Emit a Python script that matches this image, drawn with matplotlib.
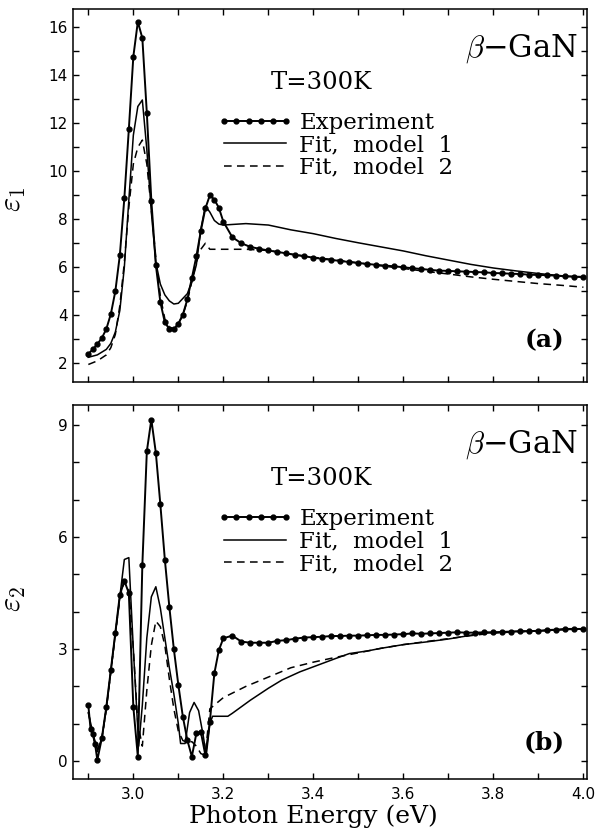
import numpy as np
import matplotlib
matplotlib.use("Agg")
from matplotlib import pyplot as plt
from matplotlib.ticker import MultipleLocator

plt.rcParams['mathtext.fontset'] = 'cm'

# ---- panel (a): epsilon_1 ----
e1_exp_x = [2.90, 2.91, 2.92, 2.93, 2.94, 2.95, 2.96, 2.97, 2.98, 2.99,
            3.00, 3.01, 3.02, 3.03, 3.04, 3.05, 3.06, 3.07, 3.08, 3.09,
            3.10, 3.11, 3.12, 3.13, 3.14, 3.15, 3.16, 3.17, 3.18, 3.19,
            3.20, 3.22, 3.24, 3.26, 3.28, 3.30, 3.32, 3.34, 3.36, 3.38,
            3.40, 3.42, 3.44, 3.46, 3.48, 3.50, 3.52, 3.54, 3.56, 3.58,
            3.60, 3.62, 3.64, 3.66, 3.68, 3.70, 3.72, 3.74, 3.76, 3.78,
            3.80, 3.82, 3.84, 3.86, 3.88, 3.90, 3.92, 3.94, 3.96, 3.98, 4.00]
e1_exp = [2.39, 2.58, 2.80, 3.05, 3.43, 4.05, 5.00, 6.50, 8.87, 11.75,
          14.78, 16.23, 15.55, 12.42, 8.78, 6.10, 4.55, 3.70, 3.43, 3.42,
          3.65, 4.03, 4.66, 5.55, 6.45, 7.52, 8.45, 9.00, 8.82, 8.48,
          7.90, 7.25, 7.00, 6.85, 6.77, 6.70, 6.64, 6.58, 6.51, 6.46,
          6.40, 6.35, 6.31, 6.26, 6.22, 6.18, 6.14, 6.10, 6.07, 6.04,
          6.00, 5.96, 5.93, 5.89, 5.86, 5.85, 5.83, 5.82, 5.80, 5.79,
          5.76, 5.75, 5.73, 5.72, 5.69, 5.68, 5.67, 5.65, 5.62, 5.61, 5.60]

e1_fit1_x = [2.90, 2.92, 2.94, 2.95, 2.96, 2.97, 2.98, 2.99, 3.00, 3.01,
             3.02, 3.03, 3.04, 3.05, 3.06, 3.07, 3.08, 3.09, 3.10, 3.11,
             3.12, 3.13, 3.14, 3.15, 3.16, 3.17, 3.18, 3.19, 3.20, 3.25,
             3.30, 3.35, 3.40, 3.45, 3.50, 3.55, 3.60, 3.65, 3.70, 3.75,
             3.80, 3.85, 3.90, 3.95, 4.00]
e1_fit1 = [2.25, 2.35, 2.58, 2.83, 3.30, 4.20, 6.00, 8.80, 11.50, 12.70,
           12.97, 10.90, 8.30, 6.20, 5.30, 4.85, 4.60, 4.47, 4.50, 4.70,
           4.90, 5.40, 6.10, 7.60, 8.55, 8.30, 7.95, 7.80, 7.76, 7.82,
           7.76, 7.56, 7.40, 7.20, 7.02, 6.85, 6.68, 6.48, 6.30, 6.12,
           5.97, 5.85, 5.74, 5.65, 5.58]

e1_fit2_x = [2.90, 2.92, 2.94, 2.95, 2.96, 2.97, 2.98, 2.99, 3.00, 3.01,
             3.02, 3.03, 3.04, 3.05, 3.06, 3.07, 3.08, 3.09, 3.10, 3.11,
             3.12, 3.13, 3.14, 3.15, 3.16, 3.17, 3.20, 3.25, 3.30, 3.35,
             3.40, 3.45, 3.50, 3.55, 3.60, 3.65, 3.70, 3.75, 3.80, 3.85,
             3.90, 3.95, 4.00]
e1_fit2 = [1.95, 2.10, 2.35, 2.65, 3.20, 4.40, 6.20, 8.50, 10.30, 11.00,
           11.30, 10.30, 8.40, 6.40, 4.80, 3.85, 3.50, 3.45, 3.65, 4.00,
           4.60, 5.40, 6.20, 6.75, 7.00, 6.75, 6.75, 6.75, 6.70, 6.55,
           6.42, 6.30, 6.18, 6.06, 5.95, 5.83, 5.72, 5.60, 5.50, 5.41,
           5.32, 5.25, 5.17]

# ---- panel (b): epsilon_2 ----
e2_exp_x = [2.90, 2.905, 2.91, 2.915, 2.92, 2.93, 2.94, 2.95, 2.96, 2.97,
            2.98, 2.99, 3.00, 3.01, 3.02, 3.03, 3.04, 3.05, 3.06, 3.07,
            3.08, 3.09, 3.10, 3.11, 3.12, 3.13, 3.14, 3.15, 3.16, 3.17,
            3.18, 3.19, 3.20, 3.22, 3.24, 3.26, 3.28, 3.30, 3.32, 3.34,
            3.36, 3.38, 3.40, 3.42, 3.44, 3.46, 3.48, 3.50, 3.52, 3.54,
            3.56, 3.58, 3.60, 3.62, 3.64, 3.66, 3.68, 3.70, 3.72, 3.74,
            3.76, 3.78, 3.80, 3.82, 3.84, 3.86, 3.88, 3.90, 3.92, 3.94,
            3.96, 3.98, 4.00]
e2_exp = [1.50, 0.85, 0.72, 0.45, 0.03, 0.61, 1.45, 2.44, 3.44, 4.45,
          4.83, 4.50, 1.45, 0.12, 5.25, 8.30, 9.15, 8.26, 6.88, 5.40,
          4.13, 3.00, 2.04, 1.19, 0.56, 0.12, 0.74, 0.78, 0.16, 1.05,
          2.35, 2.97, 3.29, 3.36, 3.20, 3.17, 3.17, 3.17, 3.22, 3.24,
          3.28, 3.31, 3.32, 3.33, 3.35, 3.35, 3.36, 3.36, 3.37, 3.38,
          3.38, 3.39, 3.40, 3.42, 3.41, 3.42, 3.43, 3.44, 3.45, 3.44,
          3.44, 3.45, 3.45, 3.46, 3.47, 3.48, 3.48, 3.49, 3.51, 3.52,
          3.54, 3.54, 3.54]

e2_fit1_x = [2.90, 2.91, 2.92, 2.93, 2.94, 2.95, 2.96, 2.97, 2.98, 2.99,
             3.00, 3.012, 3.02, 3.03, 3.04, 3.05, 3.06, 3.07, 3.08, 3.09,
             3.10, 3.105, 3.115, 3.125, 3.135, 3.145, 3.155, 3.162, 3.17, 3.176,
             3.19, 3.21, 3.22, 3.26, 3.30, 3.33, 3.37, 3.41, 3.45, 3.48,
             3.52, 3.55, 3.60, 3.65, 3.70, 3.74, 3.77, 3.80, 3.85, 3.90,
             3.95, 4.00]
e2_fit1 = [1.30, 0.75, 0.30, 0.60, 1.40, 2.40, 3.40, 4.40, 5.40, 5.45,
           3.00, 0.40, 1.50, 3.30, 4.40, 4.67, 4.10, 3.30, 2.50, 1.80,
           1.00, 0.47, 0.47, 1.30, 1.57, 1.35, 0.70, 0.15, 1.00, 1.20,
           1.20, 1.20, 1.28, 1.63, 1.95, 2.17, 2.39, 2.57, 2.75, 2.88,
           2.95, 3.02, 3.12, 3.19, 3.27, 3.35, 3.42, 3.44, 3.47, 3.48,
           3.52, 3.54]

e2_fit2_x = [2.90, 2.91, 2.92, 2.93, 2.94, 2.95, 2.96, 2.97, 2.98, 2.99,
             3.00, 3.01, 3.02, 3.03, 3.04, 3.05, 3.06, 3.07, 3.08, 3.09,
             3.10, 3.11, 3.12, 3.13, 3.14, 3.15, 3.16, 3.17, 3.20, 3.25,
             3.30, 3.35, 3.40, 3.45, 3.50, 3.55, 3.60, 3.65, 3.70, 3.75,
             3.80, 3.85, 3.90, 3.95, 4.00]
e2_fit2 = [1.30, 0.70, 0.25, 0.60, 1.40, 2.40, 3.40, 4.35, 4.80, 4.60,
           3.00, 1.00, 0.40, 1.90, 3.10, 3.75, 3.60, 3.10, 2.20, 1.40,
           0.80, 0.55, 0.50, 0.52, 0.40, 0.20, 0.15, 1.40, 1.70, 2.00,
           2.25, 2.50, 2.65, 2.78, 2.90, 3.02, 3.12, 3.20, 3.28, 3.36,
           3.43, 3.46, 3.49, 3.52, 3.54]

labels = ['Experiment', 'Fit,  model  1', 'Fit,  model  2']

SERIF = 'DejaVu Serif'
TICKFONT = 'DejaVu Sans'


def style_axes(ax, ylim, ymajor):
    ax.set_xlim(2.866, 4.008)
    ax.set_ylim(*ylim)
    ax.xaxis.set_major_locator(MultipleLocator(0.2))
    ax.xaxis.set_minor_locator(MultipleLocator(0.1))
    ax.yaxis.set_major_locator(MultipleLocator(ymajor))
    ax.yaxis.set_minor_locator(MultipleLocator(1))
    ax.tick_params(which='both', direction='in', top=True, right=True,
                   length=4, width=1.0)
    ax.tick_params(axis='x', pad=6)
    ax.tick_params(axis='y', pad=4)
    for sp in ax.spines.values():
        sp.set_linewidth(1.1)
    for lab in ax.get_xticklabels() + ax.get_yticklabels():
        lab.set_fontfamily(TICKFONT)
        lab.set_fontsize(11)


def draw_panel(ax, ex, ey, f1x, f1y, f2x, f2y):
    ax.plot(ex, ey, color='black', lw=1.4, marker='o', ms=3.5,
            label=labels[0])
    ax.plot(f1x, f1y, color='black', lw=1.1, label=labels[1])
    ax.plot(f2x, f2y, color='black', lw=1.1, ls=(0, (5, 3.5)),
            label=labels[2])
    ax.text(0.982, 0.895, r'$\beta$' + '\u2212GaN', transform=ax.transAxes,
            ha='right', va='center', fontsize=22, family=SERIF)
    ax.text(0.484, 0.804, 'T=300K', transform=ax.transAxes,
            ha='center', va='center', fontsize=17.5, family=SERIF)
    leg = ax.legend(loc='upper left', bbox_to_anchor=(0.28, 0.724),
                    frameon=False, numpoints=6, handlelength=3.3,
                    handletextpad=0.3, labelspacing=0.02, borderpad=0,
                    borderaxespad=0, prop={'family': SERIF, 'size': 16.5})
    return leg


fig = plt.figure(figsize=(6.07, 8.35), dpi=100)
ax1 = fig.add_axes([0.1203, 0.5425, 0.8468, 0.4467])
ax2 = fig.add_axes([0.1203, 0.0671, 0.8468, 0.4479])

draw_panel(ax1, e1_exp_x, e1_exp, e1_fit1_x, e1_fit1, e1_fit2_x, e1_fit2)
draw_panel(ax2, e2_exp_x, e2_exp, e2_fit1_x, e2_fit1, e2_fit2_x, e2_fit2)

style_axes(ax1, (1.22, 16.76), 2)
style_axes(ax2, (-0.48, 9.54), 3)
ax1.tick_params(axis='x', labelbottom=False)

ax1.text(0.917, 0.113, '(a)', transform=ax1.transAxes, ha='center',
         va='center', fontsize=18, family=SERIF, fontweight='bold')
ax2.text(0.917, 0.099, '(b)', transform=ax2.transAxes, ha='center',
         va='center', fontsize=18, family=SERIF, fontweight='bold')

ax1.set_ylabel(r'$\varepsilon_1$', fontsize=22)
ax1.yaxis.set_label_coords(-0.088, 0.49)
ax2.set_ylabel(r'$\varepsilon_2$', fontsize=22)
ax2.yaxis.set_label_coords(-0.088, 0.48)

ax2.set_xlabel('Photon Energy (eV)', fontsize=18, family=SERIF)
ax2.xaxis.set_label_coords(0.467, -0.068)

fig.savefig('out.png', dpi=100)
